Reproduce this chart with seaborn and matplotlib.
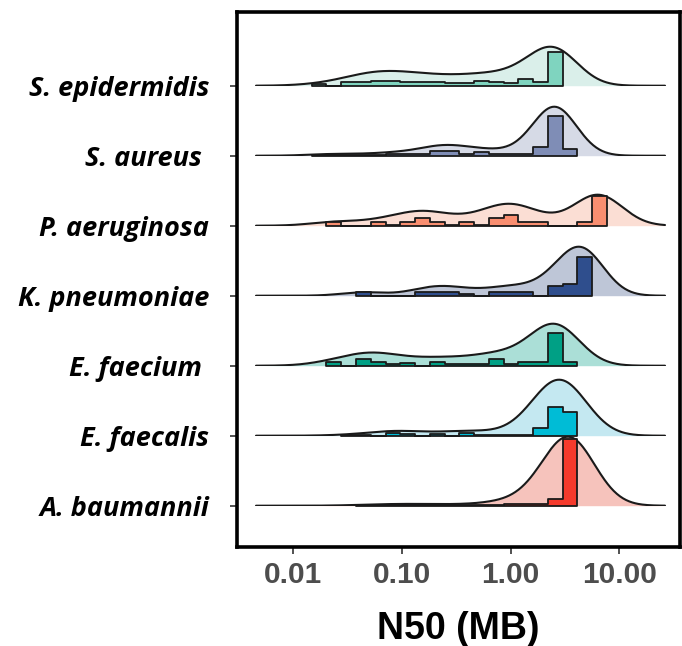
import numpy as np
import pandas as pd
import matplotlib
matplotlib.use("Agg")
import matplotlib.pyplot as plt
from matplotlib.ticker import FixedLocator, NullLocator
import seaborn as sns

# ---------------- data ----------------
SPECIES = ["S. epidermidis", "S. aureus ", "P. aeruginosa", "K. pneumoniae",
           "E. faecium ", "E. faecalis", "A. baumannii"]          # top -> bottom

# histogram bin grid on log10(N50 / MB)
BIN_EDGE0 = 0.478        # log10 of a bin edge (about 3.0 MB)
BIN_WIDTH = 0.1358       # bin width in decades

# index of the first bin of every species (relative to BIN_EDGE0)
FIRST_BIN = [-17, -17, -16, -14, -16, -15, -14]

# relative bin heights (counts, arbitrary common unit)
HIST_S_EPI = [1.3, 0, 3.3, 3.3, 4.7, 4.7, 3.3, 3.3, 3.3, 2.3, 2.3, 4.7, 3.3, 2.3, 6.3, 4.0, 34]
HIST_S_AUR = [0.7, 0.7, 0.5, 0.5, 0.7, 1.3, 1.3, 1.3, 4.7, 4.7, 1.3, 3.3, 1.3, 1.3, 1.3, 8.5, 39.5, 6.5]
HIST_P_AER = [3.7, 0, 0, 3.7, 0.7, 3.7, 7.7, 3.7, 0.3, 3.7, 0.3, 7.7, 11, 3.7, 3.7, 0, 0, 3.7, 29.3]
HIST_K_PNE = [3.7, 0, 0, 0, 3.7, 3.7, 3.7, 2.0, 0, 3.7, 3.7, 3.7, 0, 9.3, 11.7, 38.7]
HIST_E_FAM = [3.3, 0, 6.3, 4.0, 1.7, 3.0, 0, 4.0, 1.7, 1.7, 1.7, 6.3, 1.7, 3.3, 4.0, 32.3, 4.0]
HIST_E_FAL = [0.3, 0.7, 0, 3.0, 1.3, 0, 1.3, 0, 3.0, 0.7, 0.7, 0.7, 0.7, 8.0, 29.0, 24.0]
HIST_A_BAU = [0.3, 0.3, 0.7, 0.3, 0.7, 0.3, 0.3, 0.3, 0.3, 1.0, 2.0, 2.0, 2.0, 7.0, 66.7]
HISTS = [HIST_S_EPI, HIST_S_AUR, HIST_P_AER, HIST_K_PNE, HIST_E_FAM, HIST_E_FAL, HIST_A_BAU]

# relative height of every density ridge (fraction of row spacing)
RIDGE_PEAK = [0.557, 0.70, 0.443, 0.70, 0.60, 0.80, 0.986]
HIST_PEAK = 0.953          # tallest histogram bar, fraction of row spacing
# kernel bandwidth of every density (decades)
BANDWIDTH = [0.22, 0.19, 0.22, 0.20, 0.22, 0.23, 0.235]

DENS_COLORS = ["#91D1C2", "#8491B4", "#F39B7F", "#3C5488", "#00A087", "#4DBBD5", "#E64B35"]
HIST_COLORS = ["#7FD4BF", "#7F8DB6", "#F98E70", "#2F4E8D", "#00A085", "#00BCD6", "#F53A2C"]

XTICKS = [0.01, 0.1, 1.0, 10.0]
XTICKLABELS = ["0.01", "0.10", "1.00", "10.00"]
XLABEL = "N50 (MB)"

# ---------------- layout ----------------
W, H = 682, 646
FL, FR, FT, FB = 237, 680, 12, 547
ROW0, ROWSP = 85.7, 70.0
AX_H = 80.0
XLIM = (10 ** -2.518, 10 ** 1.558)
CLIP = (-2.343, 1.420)

sns.set_style("white")
plt.rcParams["font.family"] = ["Liberation Sans", "DejaVu Sans"]

fig = plt.figure(figsize=(W / 100, H / 100), dpi=100)
fig.patch.set_facecolor("white")


def fx(px):
    return px / W


def fy(py):
    return 1 - py / H


frame = fig.add_axes([fx(FL), fy(FB), fx(FR) - fx(FL), fy(FT) - fy(FB)])
frame.set_xscale("log")
frame.set_xlim(*XLIM)
n = len(SPECIES)
frame.set_ylim(-(FB - (ROW0 + (n - 1) * ROWSP)) / ROWSP, (n - 1) + (ROW0 - FT) / ROWSP)
frame.set_yticks(range(n))
frame.set_yticklabels(SPECIES[::-1], fontsize=19.5, fontweight="bold", fontstyle="italic",
                      family=["Open Sans", "DejaVu Sans"], color="black")
frame.xaxis.set_major_locator(FixedLocator(XTICKS))
frame.xaxis.set_minor_locator(NullLocator())
frame.set_xticklabels(XTICKLABELS, fontsize=21.5, fontweight="bold", color="#4D4D4D")
frame.set_xlabel(XLABEL, fontsize=27, fontweight="bold", color="black", labelpad=16)
frame.tick_params(axis="y", length=5, width=1.2, color="#333333", pad=15, left=True)
frame.tick_params(axis="x", length=5, width=1.2, color="#333333", pad=5, bottom=True)
for s in frame.spines.values():
    s.set_visible(True)
    s.set_color("black")
    s.set_linewidth(2.6)

# ---------------- ridges ----------------
frames = []
for i, sp in enumerate(SPECIES):
    h = np.asarray(HISTS[i], dtype=float)
    k = FIRST_BIN[i] + np.arange(len(h))
    centers_log = BIN_EDGE0 + (k + 0.5) * BIN_WIDTH
    df = pd.DataFrame({"N50": 10 ** centers_log, "w": h})
    frames.append((df, k))

for i, sp in enumerate(SPECIES):
    base = ROW0 + i * ROWSP
    ax = fig.add_axes([fx(FL), fy(base), fx(FR) - fx(FL), AX_H / H])
    df, k = frames[i]
    lc = np.log10(df["N50"].to_numpy())
    sd = np.sqrt(np.cov(lc, aweights=df["w"].to_numpy()))
    factor = BANDWIDTH[i] / sd
    sns.kdeplot(data=df, x="N50", weights="w", log_scale=True, bw_method=factor,
                cut=30, clip=CLIP, gridsize=400, fill=True, color=DENS_COLORS[i],
                alpha=0.33, linewidth=0, ax=ax)
    sns.kdeplot(data=df, x="N50", weights="w", log_scale=True, bw_method=factor,
                cut=30, clip=CLIP, gridsize=400, fill=False, color="#1A1A1A",
                linewidth=1.5, ax=ax)
    peak = ax.lines[-1].get_ydata().max()
    ax.set_ylim(0, peak * AX_H / (RIDGE_PEAK[i] * ROWSP))
    ax.set_xlim(*XLIM)
    ax.set_axis_off()

hist_max = max(max(hh) for hh in HISTS)
for i, sp in enumerate(SPECIES):
    base = ROW0 + i * ROWSP
    hax = fig.add_axes([fx(FL), fy(base), fx(FR) - fx(FL), AX_H / H])
    df, k = frames[i]
    edges = list(BIN_EDGE0 + np.arange(k[0], k[-1] + 2) * BIN_WIDTH)
    sns.histplot(data=df, x="N50", weights="w", log_scale=True, bins=edges,
                 stat="count", element="step", fill=True, color=HIST_COLORS[i],
                 alpha=1.0, edgecolor="#1A1A1A", linewidth=1.3, ax=hax)
    hax.set_ylim(0, hist_max * AX_H / (HIST_PEAK * ROWSP))
    hax.set_xlim(*XLIM)
    hax.set_axis_off()

fig.savefig("out.png", dpi=100, facecolor="white")
